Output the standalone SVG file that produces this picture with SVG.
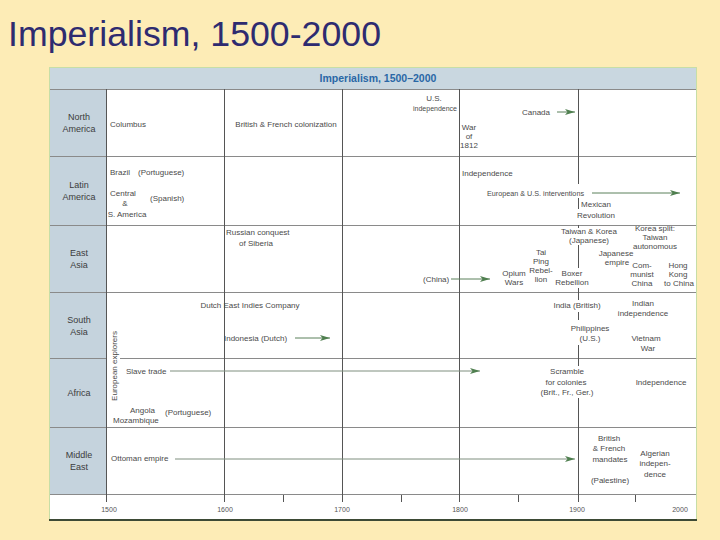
<svg xmlns="http://www.w3.org/2000/svg" width="720" height="540" viewBox="0 0 720 540">
<defs>
<style>
.t{font-family:"Liberation Sans",Arial,sans-serif;font-size:8px;fill:#4a4a4a}
.m{text-anchor:middle}
.lbl{font-family:"Liberation Sans",Arial,sans-serif;font-size:9px;fill:#3c3c3c;text-anchor:middle}
.ax{font-family:"Liberation Sans",Arial,sans-serif;font-size:7px;fill:#555;text-anchor:middle}
.g{stroke:#555;stroke-width:1;fill:none}
.h{stroke:#8a8a8a;stroke-width:1;fill:none}
.ar{stroke:#5b805b;stroke-width:1;fill:none;marker-end:url(#ah)}
.ar2{stroke:#7e8f7e;stroke-width:1;fill:none;marker-end:url(#ah)}
</style>
<marker id="ah" viewBox="0 0 10 6" refX="10" refY="3" markerWidth="10" markerHeight="6" markerUnits="userSpaceOnUse" orient="auto">
<path d="M0,0 L10,3 L0,6 L2.5,3 z" fill="#4f7f4f"/>
</marker>
</defs>
<rect x="0" y="0" width="720" height="540" fill="#fdecb6"/>
<text x="8" y="46" font-family="Liberation Sans, Arial, sans-serif" font-size="35" fill="#2e2b70" textLength="373" lengthAdjust="spacingAndGlyphs">Imperialism, 1500-2000</text>

<g id="chart-frame">
<rect x="49.5" y="67.5" width="647" height="453" fill="#ffffff" stroke="#c7dea6" stroke-width="1"/>
<rect x="50" y="68" width="646" height="21" fill="#c9d7e0"/>
<rect x="50" y="89" width="56.5" height="405" fill="#c5d3dd"/>
<text x="378" y="82" font-family="Liberation Sans, Arial, sans-serif" font-size="10.5" font-weight="bold" fill="#2a67a6" text-anchor="middle">Imperialism, 1500–2000</text>
</g>

<g id="grid">
<path class="h" d="M50,89.5H696 M50,156.5H696 M50,225.5H696 M50,292.5H696 M50,358.5H107 M120,358.5H696 M50,427.5H696 M50,494.5H696"/>
<path class="g" d="M106.5,89V502 M224.5,89V502 M342.5,89V502 M459.5,89V502"/>
<path class="g" d="M578.5,89V184 M578.5,198V209 M578.5,225V228 M578.5,245V268 M578.5,288V300 M578.5,312V320 M578.5,345V366 M578.5,398V502"/>
<path class="g" d="M283.5,495V502 M401.5,495V502 M518.5,495V502 M635.5,495V502"/>
<line x1="49" y1="520" x2="697" y2="520" stroke="#3d4a35" stroke-width="2"/>
</g>

<g id="axis-labels">
<text class="ax" x="109" y="512">1500</text>
<text class="ax" x="225" y="512">1600</text>
<text class="ax" x="342" y="512">1700</text>
<text class="ax" x="460" y="512">1800</text>
<text class="ax" x="577" y="512">1900</text>
<text class="ax" x="680" y="512">2000</text>
</g>

<g id="row-labels">
<text class="lbl" x="79" y="120">North</text>
<text class="lbl" x="79" y="132">America</text>
<text class="lbl" x="79" y="188">Latin</text>
<text class="lbl" x="79" y="200">America</text>
<text class="lbl" x="79" y="256">East</text>
<text class="lbl" x="79" y="268">Asia</text>
<text class="lbl" x="79" y="323">South</text>
<text class="lbl" x="79" y="335">Asia</text>
<text class="lbl" x="79" y="396">Africa</text>
<text class="lbl" x="79" y="458">Middle</text>
<text class="lbl" x="79" y="470">East</text>
</g>

<g id="north-america">
<text class="t" x="110" y="127">Columbus</text>
<text class="t m" x="286" y="127">British &amp; French colonization</text>
<text class="t m" x="434" y="101">U.S.</text>
<text class="t m" x="435" y="111" textLength="44" lengthAdjust="spacingAndGlyphs">independence</text>
<text class="t m" x="469" y="130">War</text>
<text class="t m" x="469" y="139">of</text>
<text class="t m" x="469" y="148">1812</text>
<text class="t m" x="536" y="115">Canada</text>
</g>

<g id="latin-america">
<text class="t" x="110" y="175">Brazil</text>
<text class="t" x="138" y="175">(Portuguese)</text>
<text class="t m" x="123" y="196">Central</text>
<text class="t m" x="125" y="206">&amp;</text>
<text class="t m" x="127" y="217">S. America</text>
<text class="t" x="150" y="201">(Spanish)</text>
<text class="t" x="462" y="176">Independence</text>
<text class="t" x="487" y="196" textLength="97" lengthAdjust="spacingAndGlyphs">European &amp; U.S. interventions</text>
<text class="t m" x="596" y="207">Mexican</text>
<text class="t m" x="596" y="218">Revolution</text>
</g>

<g id="east-asia">
<text class="t" x="226" y="235">Russian conquest</text>
<text class="t m" x="256" y="246">of Siberia</text>
<text class="t" x="423" y="282">(China)</text>
<text class="t m" x="514" y="276">Opium</text>
<text class="t m" x="514" y="285">Wars</text>
<text class="t m" x="541" y="255">Tai</text>
<text class="t m" x="541" y="264">Ping</text>
<text class="t m" x="541" y="273">Rebel-</text>
<text class="t m" x="541" y="282">lion</text>
<text class="t m" x="572" y="276">Boxer</text>
<text class="t m" x="572" y="285">Rebellion</text>
<text class="t m" x="589" y="234">Taiwan &amp; Korea</text>
<text class="t m" x="589" y="243">(Japanese)</text>
<text class="t m" x="616" y="256">Japanese</text>
<text class="t m" x="617" y="265">empire</text>
<text class="t m" x="655" y="231">Korea split:</text>
<text class="t m" x="655" y="240">Taiwan</text>
<text class="t m" x="655" y="249">autonomous</text>
<text class="t m" x="642" y="268">Com-</text>
<text class="t m" x="642" y="277">munist</text>
<text class="t m" x="642" y="286">China</text>
<text class="t m" x="678" y="268">Hong</text>
<text class="t m" x="678" y="277">Kong</text>
<text class="t m" x="679" y="286">to China</text>
</g>

<g id="south-asia">
<text class="t m" x="250" y="308">Dutch East Indies Company</text>
<text class="t" x="224" y="341">Indonesia (Dutch)</text>
<text class="t m" x="577" y="308">India (British)</text>
<text class="t m" x="590" y="331">Philippines</text>
<text class="t m" x="590" y="341">(U.S.)</text>
<text class="t m" x="643" y="306">Indian</text>
<text class="t m" x="643" y="316">independence</text>
<text class="t m" x="646" y="341">Vietnam</text>
<text class="t m" x="648" y="351">War</text>
</g>

<g id="africa">
<text class="t m" transform="translate(117,366) rotate(-90)">European explorers</text>
<text class="t" x="126" y="374">Slave trade</text>
<text class="t" x="130" y="413">Angola</text>
<text class="t" x="113" y="423">Mozambique</text>
<text class="t" x="165" y="415">(Portuguese)</text>
<text class="t m" x="567" y="374">Scramble</text>
<text class="t m" x="566" y="385">for colonies</text>
<text class="t m" x="567" y="395">(Brit., Fr., Ger.)</text>
<text class="t m" x="661" y="385">Independence</text>
</g>

<g id="middle-east">
<text class="t" x="111" y="461">Ottoman empire</text>
<text class="t m" x="609" y="441">British</text>
<text class="t m" x="609" y="451">&amp; French</text>
<text class="t m" x="610" y="462">mandates</text>
<text class="t m" x="610" y="483">(Palestine)</text>
<text class="t m" x="655" y="456">Algerian</text>
<text class="t m" x="655" y="466">indepen-</text>
<text class="t m" x="655" y="477">dence</text>
</g>

<g id="connectors">
<line class="ar" x1="557" y1="112" x2="575" y2="112"/>
<line class="ar" x1="592" y1="193" x2="680" y2="193"/>
<line class="ar" x1="451" y1="279" x2="490" y2="279"/>
<line class="ar" x1="295" y1="338" x2="330" y2="338"/>
<line class="ar2" x1="170" y1="371" x2="480" y2="371"/>
<line class="ar2" x1="175" y1="459" x2="575" y2="459"/>
</g>
</svg>
